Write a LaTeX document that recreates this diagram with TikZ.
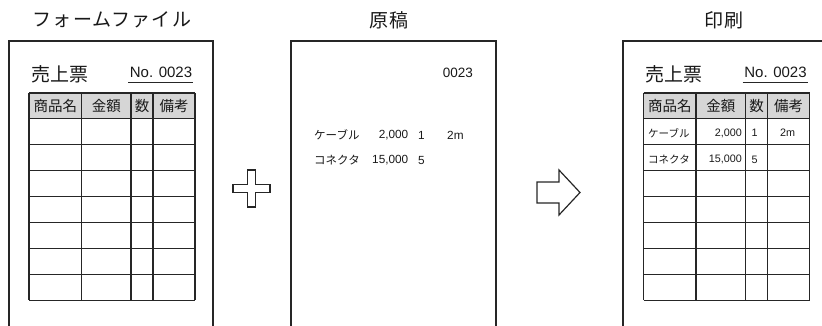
\documentclass[tikz,border=0pt]{standalone}
\usepackage{fontspec}
\setmainfont{Liberation Sans}
\newfontfamily\jpfont{Noto Sans CJK JP}
\usetikzlibrary{calc}

% mẫu phiếu bán hàng (dùng lại cho trang trái và trang phải)
\newcommand{\salesform}[1]{%
    % khung trang
    \draw[sheet] (8.5,345) -- (8.5,41) -- (212.5,41) -- (212.5,345);
    % tiêu đề phiếu và số phiếu
    \node[jptext, font=\jpfont\fontsize{19}{22}\selectfont, anchor=west] (#1-ticket) at (31,74) {売上票};
    \node[numtext, font=\fontsize{15}{18}\selectfont, anchor=base] (#1-no) at (161,78) {No. 0023};
    \draw[cell] (128,82.5) -- (193,82.5);
    % bảng
    \fill[headfill] (29,93) rectangle (195,118.9);
    \foreach \r in {0,...,8} {
        \draw[cell] (29,93+\r*25.9) -- (195,93+\r*25.9);
    }
    \foreach \c in {29,81.5,131,153,195} {
        \draw[cell] (\c,93) -- (\c,300.2);
    }
    % tiêu đề cột
    \node[headtext] (#1-name)  at (55.25,106) {商品名};
    \node[headtext] (#1-price) at (106.25,106) {金額};
    \node[headtext] (#1-qty)   at (142,106) {数};
    \node[headtext] (#1-memo)  at (174,106) {備考};
}

\begin{document}
\begin{tikzpicture}[x=1pt, y=-1pt,
    sheet/.style={line width=2pt, draw=black!85},
    cell/.style={line width=1.2pt, draw=black!85},
    headfill/.style={fill=black!16},
    jptext/.style={inner sep=0pt, text=black!90},
    numtext/.style={inner sep=0pt, text=black!90},
    headtext/.style={jptext, font=\jpfont\fontsize{14.5}{17}\selectfont},
    pagetitle/.style={jptext, font=\jpfont\fontsize{19}{22}\selectfont\addfontfeature{LetterSpace=6}},
    itemtext/.style={jptext, font=\jpfont\fontsize{11.5}{13}\selectfont},
    figtext/.style={numtext, font=\fontsize{11.8}{13}\selectfont},
    tabitem/.style={jptext, font=\jpfont\fontsize{10.5}{12}\selectfont},
    tabfig/.style={numtext, font=\fontsize{10.8}{12}\selectfont},
    outline/.style={line width=1.2pt, draw=black!85, fill=white, line join=miter}]

    \useasboundingbox (0,0) rectangle (822,326);
    \clip (0,0) rectangle (822,326);

    % =================================================================
    % 1. TIÊU ĐỀ BA CỘT
    % =================================================================
    \node[pagetitle] (form title)  at (112,20)  {フォームファイル};
    \node[pagetitle] (draft title) at (389,20)  {原稿};
    \node[pagetitle] (print title) at (724,20)  {印刷};

    % =================================================================
    % 2. TRANG MẪU (FORM FILE)
    % =================================================================
    \salesform{L}

    % dấu cộng
    \draw[outline] (233,184.75) -- (247.75,184.75) -- (247.75,170) -- (255.25,170)
        -- (255.25,184.75) -- (270,184.75) -- (270,192.25) -- (255.25,192.25)
        -- (255.25,207) -- (247.75,207) -- (247.75,192.25) -- (233,192.25) -- cycle;

    % =================================================================
    % 3. TRANG BẢN GỐC (DỮ LIỆU)
    % =================================================================
    \draw[sheet] (291,345) -- (291,41) -- (496,41) -- (496,345);
    \node[numtext, font=\fontsize{13.5}{16}\selectfont, anchor=east] (draft no) at (473,73) {0023};

    \node[itemtext, anchor=west] (draft item1) at (314,135) {ケーブル};
    \node[figtext, anchor=east]  (draft price1) at (408.5,135) {2,000};
    \node[figtext, anchor=west]  (draft qty1) at (418,135) {1};
    \node[figtext, anchor=west]  (draft memo1) at (447,135) {2m};

    \node[itemtext, anchor=west] (draft item2) at (314,160) {コネクタ};
    \node[figtext, anchor=east]  (draft price2) at (408.5,160) {15,000};
    \node[figtext, anchor=west]  (draft qty2) at (418,160) {5};

    % mũi tên khối
    \draw[outline] (537,182) -- (559,182) -- (559,170) -- (580,192.5)
        -- (559,215) -- (559,203) -- (537,203) -- cycle;

    % =================================================================
    % 4. TRANG IN (KẾT QUẢ)
    % =================================================================
    \begin{scope}[xshift=614.5pt]
        \salesform{R}
        \node[tabitem, anchor=west] (R-item1) at (33.5,133) {ケーブル};
        \node[tabfig, anchor=east]  (R-price1) at (127.5,133) {2,000};
        \node[tabfig, anchor=west]  (R-qty1) at (137,133) {1};
        \node[tabfig]               (R-memo1) at (173,133) {2m};

        \node[tabitem, anchor=west] (R-item2) at (33.5,159.5) {コネクタ};
        \node[tabfig, anchor=east]  (R-price2) at (127.5,159.5) {15,000};
        \node[tabfig, anchor=west]  (R-qty2) at (137,159.5) {5};
    \end{scope}

\end{tikzpicture}
\end{document}
